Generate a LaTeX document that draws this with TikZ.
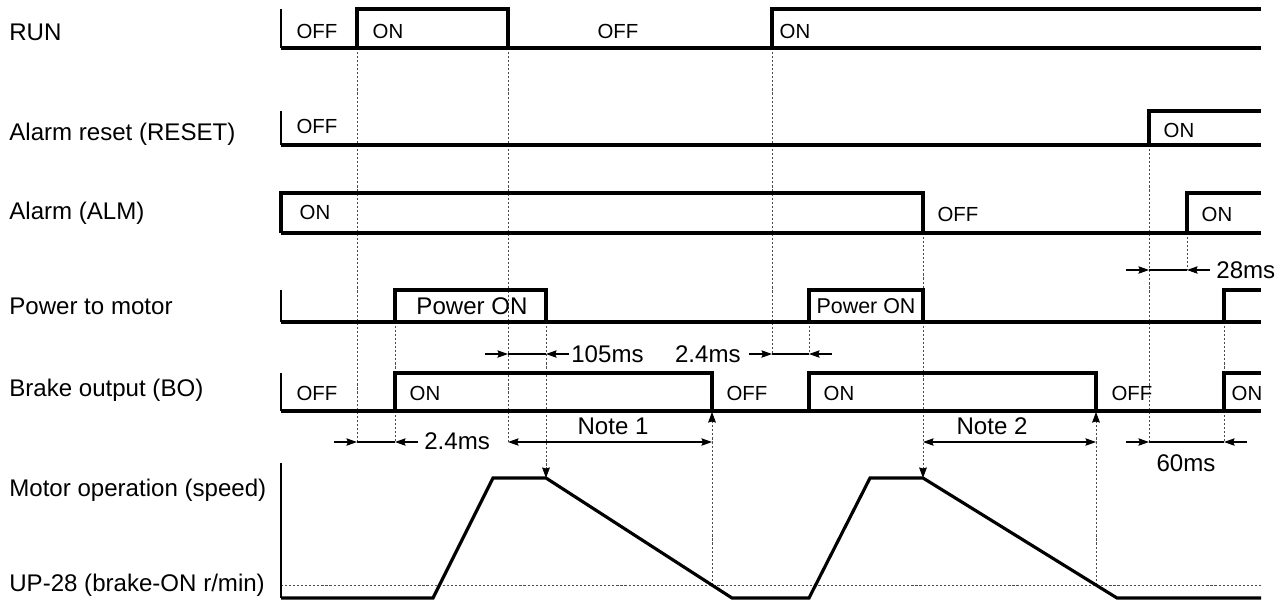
\documentclass[tikz,border=0pt]{standalone}
\usepackage{fontspec}
\setmainfont{Liberation Sans}
\usepackage{tikz}
\usetikzlibrary{arrows.meta}

\definecolor{tcguide}{gray}{0.3}

\tikzset{
  sig/.style={line width=1.8pt, line join=miter},
  tickline/.style={line width=1.1pt},
  guide/.style={tcguide, line width=0.45pt, dash pattern=on 1.2pt off 1.1pt},
  guidetip/.style={-{Stealth[length=6pt, width=4.4pt, inset=0.6pt, black]}},
  dimline/.style={line width=0.7pt},
  rowlbl/.style={font=\fontsize{13.7}{16}\selectfont, anchor=base west, inner sep=0pt},
  statelbl/.style={font=\fontsize{11.6}{13}\selectfont, inner sep=0pt},
  dimtxt/.style={font=\fontsize{13.7}{16}\selectfont, inner sep=0pt}
}

\begin{document}
\begin{tikzpicture}[x=0.02cm, y=-0.02cm, >={Stealth[length=6pt, width=4.2pt, inset=0.8pt]}]
\useasboundingbox (0,0) rectangle (1287,600);

% Row labels
\node[rowlbl] (lrun)   at (9,40.6)  {RUN};
\node[rowlbl] (lreset) at (9,140.6) {Alarm reset (RESET)};
\node[rowlbl] (lalm)   at (9,219.6) {Alarm (ALM)};
\node[rowlbl] (lpow)   at (9,314.6) {Power to motor};
\node[rowlbl] (lbo)    at (9,396.6) {Brake output (BO)};
\node[rowlbl] (lspd)   at (9,496.6) {Motor operation (speed)};
\node[rowlbl] (lup)    at (9,591.6) {UP-28 (brake-ON r/min)};

% Guide lines (dotted)
\foreach \gx/\ya/\yb in {357/48/442, 395/322/442, 508/48/442, 772/48/354, 809/322/354, 1149/145/442, 1187/233/270, 1224/322/442}
  \draw[guide] (\gx,\ya) -- (\gx,\yb);
\draw[guide] (281,585) -- (1261,585);

% Guide arrows to speed curve and brake output
\draw[guide, guidetip] (546,322) -- (546,478);
\draw[guide, guidetip] (923,233) -- (923,478);
\draw[guide, guidetip] (712,585) -- (712,412);
\draw[guide, guidetip] (1096,585) -- (1096,412);

% RUN
\draw[tickline] (281,9) -- (281,48);
\draw[sig] (281,48) -- (1261,48);
\draw[sig] (357,48) |- (508,9) -- (508,48);
\draw[sig] (772,48) |- (1261,9);

% Alarm reset
\draw[tickline] (281,111) -- (281,145);
\draw[sig] (281,145) -- (1261,145);
\draw[sig] (1149,145) |- (1261,111);

% Alarm
\draw[sig] (281,233) -- (281,193) -- (923,193) -- (923,233);
\draw[sig] (281,233) -- (1261,233);
\draw[sig] (1187,233) |- (1261,193);

% Power to motor
\draw[tickline] (281,290) -- (281,322);
\draw[sig] (281,322) -- (1261,322);
\draw[sig] (395,322) |- (546,290) -- (546,322);
\draw[sig] (809,322) |- (923,290) -- (923,322);
\draw[sig] (1224,322) |- (1261,290);

% Brake output
\draw[tickline] (281,373) -- (281,411);
\draw[sig] (281,411) -- (1261,411);
\draw[sig] (395,411) |- (712,373) -- (712,411);
\draw[sig] (809,411) |- (1096,373) -- (1096,411);
\draw[sig] (1224,411) |- (1261,373);

% Motor speed
\draw[tickline] (281,463) -- (281,598);
\draw[sig] (281,598) -- (433,598) -- (493,478) -- (546,478) -- (732,598)
  -- (809,598) -- (870,478) -- (923,478) -- (1117,598) -- (1261,598);

% State labels
\node[statelbl] (run1) at (317,31) {OFF};
\node[statelbl] (run2) at (388,31) {ON};
\node[statelbl] (run3) at (618,31) {OFF};
\node[statelbl] (run4) at (795,31) {ON};
\node[statelbl] (rst1) at (317,126) {OFF};
\node[statelbl] (rst2) at (1179,130) {ON};
\node[statelbl] (alm1) at (315,212) {ON};
\node[statelbl] (alm2) at (958,214) {OFF};
\node[statelbl] (alm3) at (1217,214) {ON};
\node[dimtxt] (pow1) at (472,306) {Power ON};
\node[statelbl, font=\fontsize{12.2}{14}\selectfont] (pow2) at (866,306) {Power ON};
\node[statelbl] (bo1) at (317,393) {OFF};
\node[statelbl] (bo2) at (425,393) {ON};
\node[statelbl] (bo3) at (747,393) {OFF};
\node[statelbl] (bo4) at (839,393) {ON};
\node[statelbl] (bo5) at (1132,393) {OFF};
\node[statelbl] (bo6) at (1247,393) {ON};

% Time intervals
\foreach \xa/\xb/\dy in {508/546/354, 772/809/354, 1149/1187/270, 357/395/442, 1149/1224/442} {
  \draw[dimline] (\xa,\dy) -- (\xb,\dy);
  \draw[dimline, ->] (\xa-23,\dy) -- (\xa,\dy);
  \draw[dimline, ->] (\xb+23,\dy) -- (\xb,\dy);
}
\draw[dimline, <->] (508,442) -- (712,442);
\draw[dimline, <->] (923,442) -- (1096,442);

\node[dimtxt, anchor=west] (t105) at (571,354) {105ms};
\node[dimtxt, anchor=east] (t24a) at (741,354) {2.4ms};
\node[dimtxt, anchor=west] (t28)  at (1216,270) {28ms};
\node[dimtxt, anchor=west] (t24b) at (424,441) {2.4ms};
\node[dimtxt] (note1) at (613,426) {Note 1};
\node[dimtxt] (note2) at (992,426) {Note 2};
\node[dimtxt] (t60)   at (1186,463) {60ms};

\end{tikzpicture}
\end{document}
